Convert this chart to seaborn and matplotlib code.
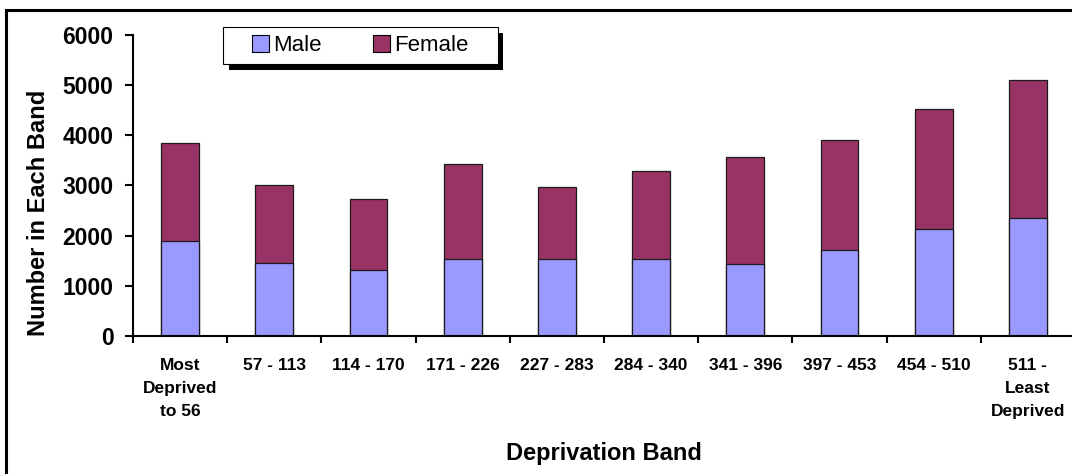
import matplotlib
matplotlib.use("Agg")
import matplotlib.pyplot as plt
import matplotlib.patheffects as pe
from matplotlib.patches import Rectangle, Patch
import seaborn as sns
import pandas as pd

# Deprivation bands and counts per band
bands = ["Most\nDeprived\nto 56", "57 - 113", "114 - 170", "171 - 226", "227 - 283",
         "284 - 340", "341 - 396", "397 - 453", "454 - 510", "511 -\nLeast\nDeprived"]
male = [1885, 1455, 1320, 1530, 1540, 1530, 1435, 1720, 2130, 2355]
female = [1965, 1545, 1415, 1895, 1430, 1755, 2135, 2190, 2385, 2750]
y_ticks = [0, 1000, 2000, 3000, 4000, 5000, 6000]

MALE_C = "#9999FF"
FEMALE_C = "#993366"

sns.set_theme(style="white")
plt.rcParams["font.family"] = ["Liberation Sans", "DejaVu Sans"]
plt.rcParams.update({"text.color": "black", "axes.labelcolor": "black",
                     "xtick.color": "black", "ytick.color": "black"})

df = pd.DataFrame({"band": bands, "Male": male, "Female": female})
df["Total"] = df["Male"] + df["Female"]

fig = plt.figure(figsize=(10.72, 4.74), dpi=100)
ax = fig.add_axes([133 / 1072, 138 / 474, 942 / 1072, 301.3 / 474])

# Stacked bars: full total in the female colour, male share drawn over it
sns.barplot(data=df, x="band", y="Total", order=bands, color=FEMALE_C, width=0.4,
            edgecolor="#1a1a1a", linewidth=0.9, saturation=1, ax=ax)
sns.barplot(data=df, x="band", y="Male", order=bands, color=MALE_C, width=0.4,
            edgecolor="#1a1a1a", linewidth=0.9, saturation=1, ax=ax)

ax.set_xlim(-0.5, len(bands) - 0.5)
ax.set_ylim(0, 6000)
ax.set_yticks(y_ticks)
ax.set_yticklabels([str(v) for v in y_ticks], fontsize=16.5, fontweight="bold")

# Category labels centred on bars, tick marks on the band boundaries
ax.set_xticks(range(len(bands)))
ax.set_xticklabels(bands, fontsize=12.5, fontweight="bold", linespacing=1.64)
ax.set_xticks([i - 0.5 for i in range(len(bands) + 1)], minor=True)
ax.tick_params(axis="x", which="major", length=0, pad=16)
ax.tick_params(axis="x", which="minor", length=5, width=1.5, direction="out",
               bottom=True)
ax.tick_params(axis="y", length=6, width=1.5, direction="out", left=True, pad=8)

for side in ("top", "right"):
    ax.spines[side].set_visible(False)
for side in ("left", "bottom"):
    ax.spines[side].set_color("black")
    ax.spines[side].set_linewidth(1.5)

ax.set_xlabel("Deprivation Band", fontsize=17, fontweight="bold")
ax.xaxis.set_label_coords(0.5, -0.352)
ax.set_ylabel("Number in Each Band", fontsize=17, fontweight="bold")
ax.yaxis.set_label_coords(-0.088, 0.408)

# Legend box with a solid drop shadow
box = (0.0959, 0.9018, 0.2913, 0.1228)
frame = Rectangle(box[:2], box[2], box[3], transform=ax.transAxes, facecolor="white",
                  edgecolor="black", linewidth=0.8, clip_on=False, zorder=5)
frame.set_path_effects([pe.withSimplePatchShadow(offset=(4, -4), shadow_rgbFace="black",
                                                 alpha=1)])
ax.add_patch(frame)
handles = [Patch(facecolor=MALE_C, edgecolor="black", linewidth=0.8, label="Male"),
           Patch(facecolor=FEMALE_C, edgecolor="black", linewidth=0.8, label="Female")]
leg = ax.legend(handles=handles, loc="center", bbox_to_anchor=box, ncol=2,
                frameon=False, fontsize=16, handlelength=0.75, handleheight=0.75,
                handletextpad=0.2, columnspacing=2.3, borderpad=0.2)
leg.set_zorder(6)

# Outer chart frame
fig.patches.append(Rectangle((6 / 1072, -0.05), 1.1, 1.05 - 9.5 / 474,
                             transform=fig.transFigure, fill=False,
                             edgecolor="black", linewidth=2.2, zorder=0))

fig.savefig("out.png", dpi=100, facecolor="white")
